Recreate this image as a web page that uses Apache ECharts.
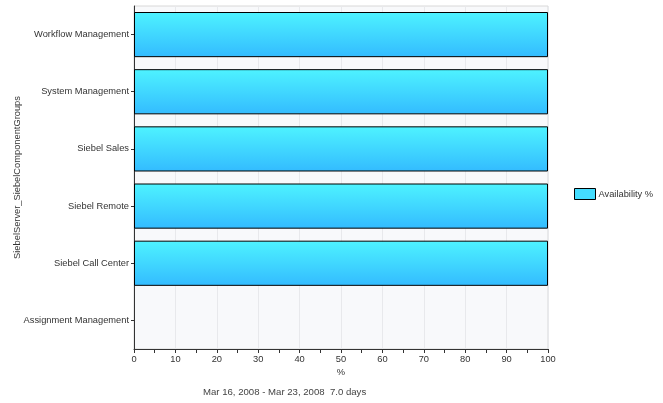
<!DOCTYPE html>
<html><head><meta charset="utf-8">
<script src="https://cdn.jsdelivr.net/npm/echarts@6/dist/echarts.min.js"></script>
<style>html,body{margin:0;padding:0;background:#fff}#c{width:663px;height:403px}</style>
</head><body><div id="c"></div>
<script>
const categories = ['Assignment Management','Siebel Call Center','Siebel Remote','Siebel Sales','System Management','Workflow Management'];
const availability = [null,100,100,100,100,100];
const xTicks = [0,10,20,30,40,50,60,70,80,90,100];
const seriesName = 'Availability %';
const xAxisName = '%';
const yAxisName = 'SiebelServer_SiebelComponentGroups';
const footer = 'Mar 16, 2008 - Mar 23, 2008  7.0 days';

const font = 'Liberation Sans, Arial, sans-serif';
const fs = 9.3;
const chart = echarts.init(document.getElementById('c'), null, {renderer:'canvas'});
chart.setOption({
  animation:false,
  backgroundColor:'#fff',
  grid:{left:134,right:115,top:6,bottom:54,show:true,backgroundColor:'#f8f9fb',borderColor:'#d8d8d8',borderWidth:1,containLabel:false,outerBoundsMode:'none'},
  legend:{orient:'vertical',left:569,top:183,itemWidth:21,itemHeight:11,itemGap:4,icon:'rect',
    textStyle:{fontFamily:font,fontSize:fs,color:'#333',padding:[0,0,0,-2]},
    data:[{name:seriesName,itemStyle:{color:'#44ddff',borderColor:'#000',borderWidth:1}}]},
  graphic:[{type:'text',left:203,top:387,style:{text:footer,fontFamily:font,fontSize:9.6,fill:'#444'}}],
  xAxis:{type:'value',min:xTicks[0],max:xTicks[xTicks.length-1],interval:10,
    name:xAxisName,nameLocation:'middle',nameGap:19,nameMoveOverlap:false,nameTextStyle:{fontFamily:font,fontSize:fs,color:'#333'},
    axisLine:{show:true,lineStyle:{color:'#333',width:1}},
    axisTick:{show:true,length:4,lineStyle:{color:'#333'}},
    minorTick:{show:true,splitNumber:2,length:4,lineStyle:{color:'#333'}},
    axisLabel:{fontFamily:font,fontSize:fs,color:'#333',margin:6},
    splitLine:{show:true,lineStyle:{color:'#e8e9ec',width:1}}},
  yAxis:{type:'category',data:categories,
    name:yAxisName,nameLocation:'middle',nameGap:112,nameMoveOverlap:false,nameRotate:90,nameTextStyle:{fontFamily:font,fontSize:fs,color:'#333'},
    axisLine:{show:true,lineStyle:{color:'#333',width:1}},
    axisTick:{show:true,alignWithLabel:true,length:3,lineStyle:{color:'#333'}},
    axisLabel:{fontFamily:font,fontSize:fs,color:'#333',margin:5},
    splitLine:{show:false}},
  series:[{name:seriesName,type:'bar',data:availability,barCategoryGap:'21%',
    itemStyle:{borderColor:'#000',borderWidth:1,
      color:new echarts.graphic.LinearGradient(0,0,0,1,[{offset:0,color:'#4ef3ff'},{offset:1,color:'#33bbff'}])}}]
});
</script></body></html>
